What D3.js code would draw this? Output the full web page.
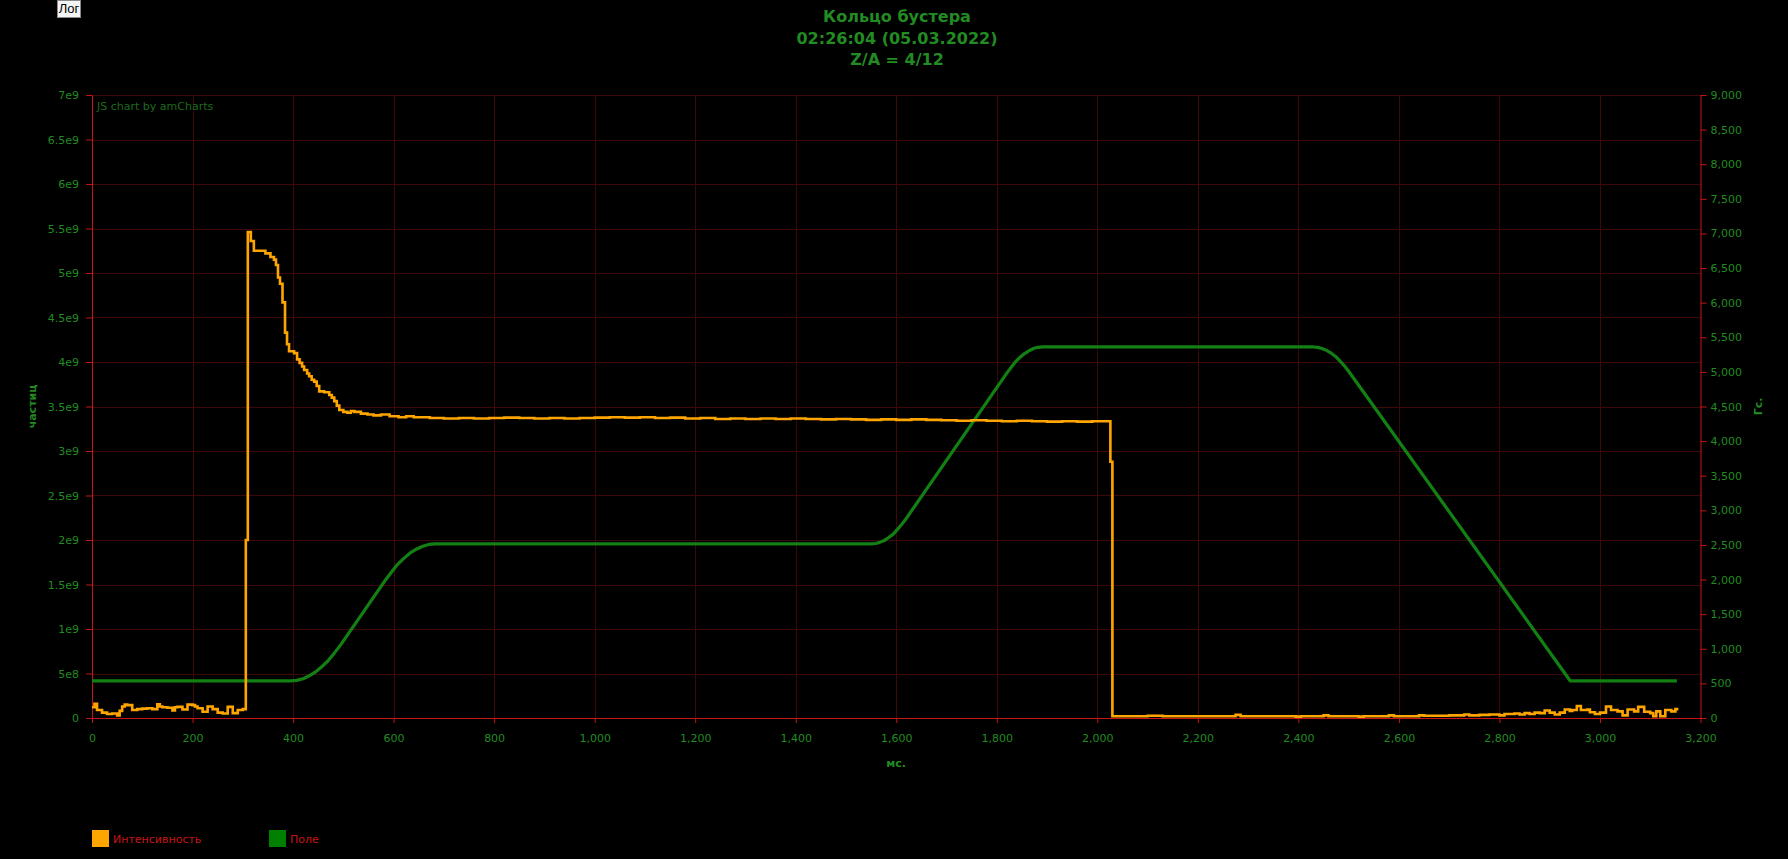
<!DOCTYPE html>
<html>
<head>
<meta charset="utf-8">
<script src="https://cdn.jsdelivr.net/npm/d3@7"></script>
<style>
  html, body { margin: 0; padding: 0; background: #000; overflow: hidden; }
  #btn { position: absolute; left: 57px; top: 0px; width: 22px; height: 16px; background: #f4f4f4;
         border: 1px solid #8a8a8a; font: 13px "Liberation Sans", Arial, sans-serif; color: #000;
         line-height: 16px; text-align: center; }
  svg { position: absolute; left: 0; top: 0; }
</style>
</head>
<body>
<div id="btn">Лог</div>
<svg id="chart" width="1788" height="859"></svg>
<script>
// ---------- data ----------
const titleLines = ["Кольцо бустера", "02:26:04 (05.03.2022)", "Z/A = 4/12"];
const xTicks = [0,200,400,600,800,1000,1200,1400,1600,1800,2000,2200,2400,2600,2800,3000,3200];
const xTickLabels = ["0","200","400","600","800","1,000","1,200","1,400","1,600","1,800","2,000","2,200","2,400","2,600","2,800","3,000","3,200"];
const leftTicks = [0,5e8,1e9,1.5e9,2e9,2.5e9,3e9,3.5e9,4e9,4.5e9,5e9,5.5e9,6e9,6.5e9,7e9];
const leftTickLabels = ["0","5e8","1e9","1.5e9","2e9","2.5e9","3e9","3.5e9","4e9","4.5e9","5e9","5.5e9","6e9","6.5e9","7e9"];
const rightTicks = [0,500,1000,1500,2000,2500,3000,3500,4000,4500,5000,5500,6000,6500,7000,7500,8000,8500,9000];
const rightTickLabels = ["0","500","1,000","1,500","2,000","2,500","3,000","3,500","4,000","4,500","5,000","5,500","6,000","6,500","7,000","7,500","8,000","8,500","9,000"];
const seriesNames = ["Интенсивность", "Поле"];

// Intensity (particles), time in ms
const intensityTime = [
  0,5,10,20,30,40,50,55,60,65,70,80,90,100,110,120,130,135,140,150,160,165,170,180,190,200,205,210,220,230,240,250,260,270,280,290,300,
  306,310,316,322,345,355,362,366,370,374,379,384,388,392,402,408,413,418,422,428,432,437,442,447,452,462,472,477,482,487,492,500,508,515,522,535,548,560,575,592,610,625,640,672,
  700,730,760,790,820,850,880,910,940,970,1000,1030,1060,1090,1120,1150,1180,1210,1240,1270,1300,1330,1360,1390,1420,1450,1480,1510,1540,1570,1600,1630,1660,1690,1720,1750,1780,1810,1840,1870,1900,1930,1960,1990,
  2026,2030,2100,2130,2275,2285,2395,2405,2450,2460,2520,2530,2580,2590,2640,2650,2700,2730,2740,2760,2780,2800,2810,2830,2840,2850,2860,2870,2880,2890,2900,2910,2920,2930,2940,2945,2954,2962,2975,2980,2990,3000,3012,3022,3035,3045,3055,3068,3076,3088,3100,3106,3112,3120,3130,3142,3150,3156
];
const intensityValue = [
  1.2e8,1.6e8,0.9e8,0.6e8,0.45e8,0.5e8,0.3e8,0.8e8,1.3e8,1.5e8,1.45e8,0.9e8,1.0e8,1.05e8,1.1e8,1.0e8,1.55e8,1.3e8,1.2e8,1.15e8,0.85e8,1.2e8,1.25e8,0.95e8,1.5e8,1.45e8,1.3e8,1.1e8,0.7e8,1.3e8,1.0e8,0.6e8,0.5e8,1.25e8,0.55e8,0.9e8,1.0e8,
  2.0e9,5.46e9,5.36e9,5.25e9,5.22e9,5.18e9,5.15e9,5.09e9,4.95e9,4.88e9,4.67e9,4.33e9,4.2e9,4.12e9,4.1e9,4.03e9,3.99e9,3.95e9,3.91e9,3.87e9,3.84e9,3.8e9,3.78e9,3.73e9,3.67e9,3.66e9,3.63e9,3.6e9,3.56e9,3.51e9,3.46e9,3.44e9,3.43e9,3.45e9,3.44e9,3.42e9,3.41e9,3.4e9,3.41e9,3.39e9,3.38e9,3.39e9,3.38e9,3.37e9,
  3.365e9,3.37e9,3.365e9,3.37e9,3.375e9,3.37e9,3.365e9,3.37e9,3.365e9,3.37e9,3.375e9,3.38e9,3.375e9,3.38e9,3.37e9,3.375e9,3.365e9,3.37e9,3.36e9,3.365e9,3.36e9,3.365e9,3.36e9,3.365e9,3.36e9,3.355e9,3.36e9,3.355e9,3.35e9,3.355e9,3.35e9,3.355e9,3.35e9,3.345e9,3.34e9,3.345e9,3.34e9,3.335e9,3.34e9,3.335e9,3.33e9,3.335e9,3.33e9,3.335e9,
  2.88e9,0.2e8,0.25e8,0.2e8,0.35e8,0.2e8,0.15e8,0.2e8,0.3e8,0.2e8,0.15e8,0.2e8,0.3e8,0.2e8,0.3e8,0.25e8,0.3e8,0.4e8,0.3e8,0.35e8,0.4e8,0.3e8,0.45e8,0.5e8,0.4e8,0.55e8,0.45e8,0.6e8,0.55e8,0.85e8,0.6e8,0.4e8,0.6e8,0.95e8,0.8e8,0.9e8,1.35e8,0.9e8,0.95e8,0.65e8,0.45e8,0.6e8,1.3e8,0.9e8,0.75e8,0.3e8,0.95e8,0.75e8,1.25e8,0.7e8,0.55e8,0.2e8,0.75e8,0.2e8,0.9e8,0.75e8,1.0e8,1.0e8
];

// Magnetic field (Gs), time in ms
const fieldTime  = [0,395,407,420,432,445,457,470,482,495,583,596,608,621,633,646,658,670,683,
                    1550,1559,1567,1576,1585,1594,1602,1611,1620,1821,1830,1838,1847,1856,1865,1873,1882,1891,
                    2430,2439,2447,2456,2465,2474,2482,2491,2500,2941,3153];
const fieldValue = [535,535,543,568,609,666,740,830,937,1060,1985,2108,2220,2310,2384,2442,2482,2507,2515,
                    2515,2521,2537,2563,2607,2656,2722,2798,2883,4993,5078,5153,5216,5268,5309,5337,5355,5360,
                    5360,5354,5338,5311,5272,5223,5163,5092,5010,535,535];

// ---------- drawing ----------
const svg = d3.select("#chart");
const FONT = '"DejaVu Sans", Verdana, sans-serif';
const axisColor = "#c81414", gridColor = "#3c0808", labelColor = "#228b22";

const x  = d3.scaleLinear().domain([0, 3200]).range([92, 1700.5]);
const yL = d3.scaleLinear().domain([0, 7e9]).range([718, 95]);
const yR = d3.scaleLinear().domain([0, 9000]).range([718, 95]);

// grid
const grid = svg.append("g");
grid.selectAll("line.v").data(xTicks.slice(1, -1)).join("line")
  .attr("x1", d => Math.round(x(d)) + 0.5).attr("x2", d => Math.round(x(d)) + 0.5)
  .attr("y1", 95).attr("y2", 718).attr("stroke", gridColor);
grid.selectAll("line.h").data(leftTicks.slice(1)).join("line")
  .attr("y1", d => Math.round(yL(d)) + 0.5).attr("y2", d => Math.round(yL(d)) + 0.5)
  .attr("x1", 92).attr("x2", 1701).attr("stroke", gridColor);

// watermark
svg.append("text").attr("x", 97).attr("y", 110).text("JS chart by amCharts")
  .attr("fill", "#1e6a1e").style("font", "11px " + FONT);

// axes
function styleAxis(g) {
  g.selectAll("path.domain").attr("stroke", axisColor);
  g.selectAll(".tick line").attr("stroke", axisColor);
  g.selectAll(".tick text").attr("fill", labelColor).style("font", "11px " + FONT);
}
svg.append("g").attr("transform", "translate(0,718)")
  .call(d3.axisBottom(x).tickValues(xTicks).tickFormat((d, i) => xTickLabels[i]).tickSize(5).tickSizeOuter(0).tickPadding(11))
  .call(styleAxis);
svg.append("g").attr("transform", "translate(92,0)")
  .call(d3.axisLeft(yL).tickValues(leftTicks).tickFormat((d, i) => leftTickLabels[i]).tickSize(6).tickSizeOuter(0).tickPadding(7))
  .call(styleAxis);
svg.append("g").attr("transform", "translate(1700.5,0)")
  .call(d3.axisRight(yR).tickValues(rightTicks).tickFormat((d, i) => rightTickLabels[i]).tickSize(6).tickSizeOuter(0).tickPadding(4))
  .call(styleAxis);

// series
const fieldData = fieldTime.map((t, i) => [t, fieldValue[i]]);
const intData = intensityTime.map((t, i) => [t, intensityValue[i]]);

svg.append("path").datum(fieldData)
  .attr("d", d3.line().x(d => x(d[0])).y(d => yR(d[1])).curve(d3.curveLinear))
  .attr("fill", "none").attr("stroke", "#138013").attr("stroke-width", 3.2).attr("stroke-linejoin", "round");

svg.append("path").datum(intData)
  .attr("d", d3.line().x(d => x(d[0])).y(d => yL(d[1])).curve(d3.curveStepAfter))
  .attr("fill", "none").attr("stroke", "#ffa500").attr("stroke-width", 2.6).attr("stroke-linejoin", "miter");

// titles
const title = svg.append("text").attr("text-anchor", "middle").attr("fill", labelColor)
  .style("font", "bold 16px " + FONT);
title.selectAll("tspan").data(titleLines).join("tspan")
  .attr("x", 897).attr("y", (d, i) => [22, 44, 65][i]).text(d => d);

svg.append("text").attr("transform", "translate(36,406.5) rotate(-90)").attr("text-anchor", "middle")
  .attr("fill", labelColor).style("font", "bold 11px " + FONT).text("частиц");
svg.append("text").attr("transform", "translate(1762,406.5) rotate(-90)").attr("text-anchor", "middle")
  .attr("fill", labelColor).style("font", "bold 11px " + FONT).text("Гс.");
svg.append("text").attr("x", 896).attr("y", 767).attr("text-anchor", "middle")
  .attr("fill", labelColor).style("font", "bold 11px " + FONT).text("мс.");

// legend
const legendColors = ["#ffa500", "#008000"];
const lg = svg.append("g").selectAll("g").data(seriesNames).join("g")
  .attr("transform", (d, i) => `translate(${[92, 269][i]},830)`);
lg.append("rect").attr("width", 17).attr("height", 17).attr("fill", (d, i) => legendColors[i]);
lg.append("text").attr("x", 21).attr("y", 12.5).text(d => d)
  .attr("fill", "#c81414").style("font", "11px " + FONT);
</script>
</body>
</html>
